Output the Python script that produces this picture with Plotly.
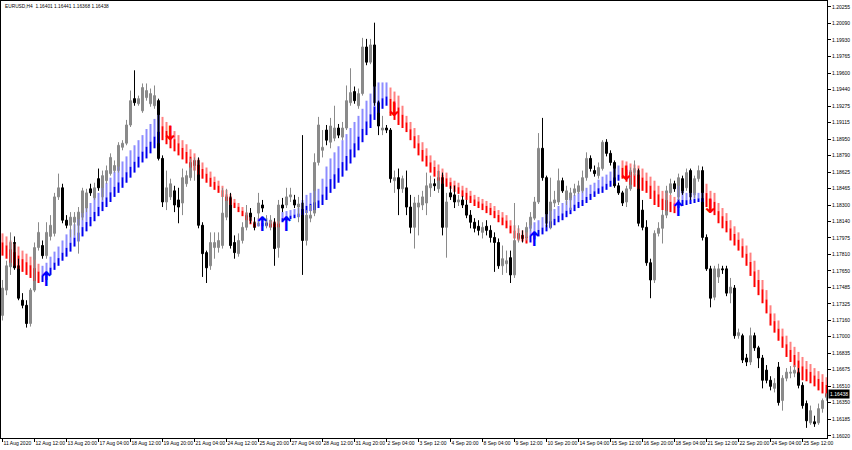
import plotly.graph_objects as go

# ---------------- data (EURUSD H4) ----------------
opens = [
1.1721, 1.1746, 1.1769, 1.1793, 1.1770, 1.1736, 1.1731, 1.1713, 1.1746, 1.1788,
1.1790, 1.1780, 1.1799, 1.1802, 1.1838, 1.1847, 1.1815, 1.1810, 1.1813, 1.1810,
1.1818, 1.1827, 1.1846, 1.1837, 1.1856, 1.1838, 1.1854, 1.1861, 1.1864, 1.1864,
1.1887, 1.1891, 1.1909, 1.1935, 1.1930, 1.1923, 1.1936, 1.1930, 1.1928, 1.1933,
1.1876, 1.1833, 1.1838, 1.1844, 1.1835, 1.1832, 1.1851, 1.1857, 1.1869, 1.1874,
1.1810, 1.1783, 1.1770, 1.1788, 1.1788, 1.1790, 1.1818, 1.1838, 1.1793, 1.1782,
1.1795, 1.1808, 1.1822, 1.1813, 1.1822, 1.1830, 1.1810, 1.1808, 1.1813, 1.1788,
1.1830, 1.1830, 1.1838, 1.1835, 1.1828, 1.1832, 1.1795, 1.1817, 1.1822, 1.1872,
1.1884, 1.1904, 1.1892, 1.1896, 1.1906, 1.1897, 1.1906, 1.1931, 1.1942, 1.1928,
1.1940, 1.1986, 1.1971, 1.1988, 1.1931, 1.1904, 1.1906, 1.1904, 1.1854, 1.1857,
1.1846, 1.1847, 1.1828, 1.1808, 1.1828, 1.1830, 1.1832, 1.1847, 1.1851, 1.1846,
1.1857, 1.1808, 1.1842, 1.1840, 1.1833, 1.1835, 1.1830, 1.1820, 1.1813, 1.1809,
1.1803, 1.1809, 1.1805, 1.1798, 1.1793, 1.1770, 1.1772, 1.1778, 1.1761, 1.1797,
1.1800, 1.1798, 1.1807, 1.1817, 1.1833, 1.1886, 1.1857, 1.1808, 1.1832, 1.1833,
1.1854, 1.1835, 1.1835, 1.1842, 1.1843, 1.1844, 1.1857, 1.1876, 1.1864, 1.1859,
1.1866, 1.1892, 1.1881, 1.1872, 1.1849, 1.1842, 1.1833, 1.1846, 1.1862, 1.1864,
1.1825, 1.1808, 1.1773, 1.1756, 1.1802, 1.1807, 1.1820, 1.1842, 1.1851, 1.1838,
1.1856, 1.1847, 1.1864, 1.1840, 1.1856, 1.1864, 1.1798, 1.1767, 1.1739, 1.1759,
1.1767, 1.1767, 1.1743, 1.1748, 1.1701, 1.1701, 1.1679, 1.1675, 1.1701, 1.1689,
1.1679, 1.1667, 1.1657, 1.1649, 1.1670, 1.1637, 1.1659, 1.1664, 1.1664, 1.1665,
1.1652, 1.1634, 1.1615, 1.1616, 1.1615, 1.1629, 1.16401]

highs = [
1.1756, 1.1775, 1.1803, 1.1799, 1.1777, 1.1743, 1.1736, 1.1748, 1.1793, 1.1813,
1.1795, 1.1813, 1.1820, 1.1842, 1.1861, 1.1851, 1.1820, 1.1823, 1.1823, 1.1828,
1.1847, 1.1846, 1.1851, 1.1852, 1.1866, 1.1864, 1.1869, 1.1881, 1.1874, 1.1892,
1.1894, 1.1914, 1.1943, 1.1963, 1.1938, 1.1950, 1.1950, 1.1945, 1.1948, 1.1935,
1.1879, 1.1864, 1.1856, 1.1849, 1.1847, 1.1866, 1.1864, 1.1876, 1.1877, 1.1877,
1.1813, 1.1785, 1.1803, 1.1803, 1.1803, 1.1847, 1.1846, 1.1842, 1.1800, 1.1802,
1.1813, 1.1830, 1.1827, 1.1818, 1.1842, 1.1835, 1.1820, 1.1820, 1.1817, 1.1835,
1.1837, 1.1847, 1.1847, 1.1840, 1.1838, 1.1899, 1.1825, 1.1830, 1.1881, 1.1917,
1.1904, 1.1909, 1.1916, 1.1928, 1.1910, 1.1912, 1.1948, 1.1965, 1.1947, 1.1945,
1.1995, 1.1994, 1.1994, 1.2010, 1.1933, 1.1918, 1.1909, 1.1906, 1.1864, 1.1866,
1.1859, 1.1864, 1.1840, 1.1838, 1.1840, 1.1844, 1.1862, 1.1859, 1.1856, 1.1864,
1.1862, 1.1842, 1.1849, 1.1849, 1.1840, 1.1839, 1.1835, 1.1825, 1.1817, 1.1815,
1.1813, 1.1815, 1.1810, 1.1803, 1.1797, 1.1790, 1.1785, 1.1785, 1.1832, 1.1810,
1.1805, 1.1813, 1.1823, 1.1838, 1.1901, 1.1916, 1.1859, 1.1857, 1.1844, 1.1866,
1.1857, 1.1849, 1.1847, 1.1851, 1.1854, 1.1864, 1.1882, 1.1879, 1.1869, 1.1872,
1.1894, 1.1895, 1.1884, 1.1874, 1.1852, 1.1844, 1.1849, 1.1867, 1.1874, 1.1866,
1.1835, 1.1815, 1.1777, 1.1805, 1.1813, 1.1825, 1.1849, 1.1856, 1.1854, 1.1861,
1.1859, 1.1866, 1.1866, 1.1859, 1.1869, 1.1868, 1.1801, 1.1770, 1.1770, 1.1772,
1.1770, 1.1770, 1.1758, 1.1751, 1.1708, 1.1703, 1.1683, 1.1709, 1.1704, 1.1691,
1.1682, 1.1672, 1.1661, 1.1659, 1.1675, 1.1662, 1.1669, 1.1671, 1.1672, 1.1669,
1.1655, 1.1637, 1.1632, 1.1622, 1.1634, 1.1639, 1.16441]

lows = [
1.1716, 1.1741, 1.1761, 1.1766, 1.1736, 1.1728, 1.1709, 1.1710, 1.1744, 1.1785,
1.1777, 1.1777, 1.1795, 1.1799, 1.1835, 1.1812, 1.1807, 1.1798, 1.1800, 1.1782,
1.1815, 1.1823, 1.1839, 1.1835, 1.1844, 1.1835, 1.1851, 1.1859, 1.1862, 1.1862,
1.1884, 1.1889, 1.1907, 1.1928, 1.1928, 1.1921, 1.1933, 1.1927, 1.1925, 1.1874,
1.1828, 1.1825, 1.1835, 1.1823, 1.1812, 1.1820, 1.1848, 1.1854, 1.1854, 1.1807,
1.1759, 1.1753, 1.1766, 1.1777, 1.1783, 1.1787, 1.1815, 1.1787, 1.1777, 1.1779,
1.1792, 1.1805, 1.1812, 1.1805, 1.1809, 1.1823, 1.1807, 1.1805, 1.1770, 1.1778,
1.1823, 1.1827, 1.1833, 1.1827, 1.1813, 1.1761, 1.1790, 1.1813, 1.1819, 1.1869,
1.1877, 1.1889, 1.1886, 1.1893, 1.1896, 1.1894, 1.1904, 1.1928, 1.1930, 1.1925,
1.1938, 1.1968, 1.1969, 1.1928, 1.1899, 1.1899, 1.1901, 1.1852, 1.1842, 1.1820,
1.1842, 1.1820, 1.1802, 1.1787, 1.1800, 1.1825, 1.1820, 1.1838, 1.1844, 1.1842,
1.1800, 1.1778, 1.1835, 1.1827, 1.1829, 1.1827, 1.1817, 1.1807, 1.1803, 1.1800,
1.1797, 1.1800, 1.1793, 1.1764, 1.1767, 1.1761, 1.1763, 1.1753, 1.1758, 1.1793,
1.1793, 1.1795, 1.1804, 1.1815, 1.1831, 1.1854, 1.1808, 1.1806, 1.1828, 1.1830,
1.1842, 1.1830, 1.1825, 1.1839, 1.1841, 1.1842, 1.1854, 1.1863, 1.1858, 1.1856,
1.1864, 1.1878, 1.1869, 1.1847, 1.1840, 1.1829, 1.1828, 1.1844, 1.1859, 1.1809,
1.1805, 1.1770, 1.1738, 1.1753, 1.1799, 1.1792, 1.1817, 1.1840, 1.1843, 1.1835,
1.1840, 1.1844, 1.1835, 1.1837, 1.1853, 1.1795, 1.1765, 1.1729, 1.1736, 1.1753,
1.1762, 1.1740, 1.1733, 1.1698, 1.1698, 1.1674, 1.1671, 1.1672, 1.1686, 1.1669,
1.1649, 1.1654, 1.1647, 1.1645, 1.1632, 1.1627, 1.1656, 1.1659, 1.1660, 1.1649,
1.1629, 1.1610, 1.1613, 1.1611, 1.1613, 1.1625, 1.16368]

closes = [
1.1748, 1.1770, 1.1793, 1.1768, 1.1738, 1.1731, 1.1713, 1.1746, 1.1788, 1.1803,
1.1780, 1.1803, 1.1810, 1.1838, 1.1847, 1.1815, 1.1810, 1.1818, 1.1818, 1.1823,
1.1844, 1.1842, 1.1842, 1.1847, 1.1847, 1.1859, 1.1864, 1.1877, 1.1869, 1.1889,
1.1891, 1.1909, 1.1933, 1.1931, 1.1935, 1.1946, 1.1943, 1.1940, 1.1938, 1.1876,
1.1833, 1.1847, 1.1851, 1.1830, 1.1828, 1.1857, 1.1859, 1.1872, 1.1874, 1.1810,
1.1782, 1.1768, 1.1793, 1.1793, 1.1795, 1.1822, 1.1838, 1.1790, 1.1783, 1.1795,
1.1808, 1.1822, 1.1815, 1.1808, 1.1832, 1.1827, 1.1813, 1.1815, 1.1787, 1.1830,
1.1827, 1.1838, 1.1840, 1.1830, 1.1831, 1.1795, 1.1820, 1.1820, 1.1872, 1.1909,
1.1887, 1.1894, 1.1908, 1.1906, 1.1899, 1.1906, 1.1933, 1.1941, 1.1933, 1.1940,
1.1986, 1.1971, 1.1988, 1.1931, 1.1908, 1.1906, 1.1904, 1.1856, 1.1857, 1.1846,
1.1856, 1.1828, 1.1808, 1.1832, 1.1832, 1.1838, 1.1849, 1.1851, 1.1849, 1.1857,
1.1808, 1.1833, 1.1838, 1.1833, 1.1835, 1.1830, 1.1820, 1.1813, 1.1807, 1.1805,
1.1808, 1.1805, 1.1798, 1.1793, 1.1770, 1.1777, 1.1775, 1.1761, 1.1795, 1.1802,
1.1797, 1.1808, 1.1818, 1.1833, 1.1886, 1.1857, 1.1812, 1.1833, 1.1835, 1.1854,
1.1844, 1.1844, 1.1842, 1.1846, 1.1849, 1.1857, 1.1876, 1.1866, 1.1861, 1.1867,
1.1892, 1.1881, 1.1872, 1.1849, 1.1842, 1.1832, 1.1846, 1.1864, 1.1866, 1.1812,
1.1808, 1.1773, 1.1756, 1.1802, 1.1807, 1.1820, 1.1844, 1.1851, 1.1846, 1.1857,
1.1842, 1.1862, 1.1838, 1.1856, 1.1864, 1.1798, 1.1767, 1.1738, 1.1767, 1.1767,
1.1766, 1.1743, 1.1749, 1.1701, 1.1704, 1.1677, 1.1675, 1.1701, 1.1689, 1.1679,
1.1657, 1.1657, 1.1651, 1.1654, 1.1635, 1.1659, 1.1665, 1.1665, 1.1667, 1.1652,
1.1632, 1.1617, 1.1627, 1.1614, 1.1629, 1.1637, 1.16438]

# trend indicator: upper and lower end of each column
ind_hi = [
1.1802, 1.1799, 1.1795, 1.1792, 1.1789, 1.1785, 1.1782, 1.1779, 1.1776, 1.1772,
1.1770, 1.1773, 1.1779, 1.1784, 1.1789, 1.1795, 1.1801, 1.1806, 1.1811, 1.1816,
1.1822, 1.1827, 1.1832, 1.1837, 1.1842, 1.1847, 1.1852, 1.1857, 1.1863, 1.1868,
1.1873, 1.1878, 1.1884, 1.1889, 1.1894, 1.1899, 1.1905, 1.1910, 1.1915, 1.1919,
1.1917, 1.1912, 1.1908, 1.1903, 1.1899, 1.1894, 1.1890, 1.1885, 1.1881, 1.1876,
1.1872, 1.1867, 1.1863, 1.1858, 1.1854, 1.1849, 1.1845, 1.1841, 1.1836, 1.1832,
1.1828, 1.1823, 1.1818, 1.1814, 1.1817, 1.1817, 1.1817, 1.1814, 1.1814, 1.1814,
1.1823, 1.1824, 1.1825, 1.1826, 1.1827, 1.1835, 1.1840, 1.1842, 1.1844, 1.1846,
1.1856, 1.1868, 1.1876, 1.1882, 1.1888, 1.1894, 1.1900, 1.1906, 1.1912, 1.1918,
1.1925, 1.1933, 1.1940, 1.1947, 1.1951, 1.1951, 1.1951, 1.1946, 1.1942, 1.1938,
1.1928, 1.1918, 1.1912, 1.1906, 1.1899, 1.1892, 1.1886, 1.1879, 1.1874, 1.1870,
1.1866, 1.1862, 1.1857, 1.1854, 1.1852, 1.1849, 1.1847, 1.1844, 1.1840, 1.1838,
1.1836, 1.1834, 1.1832, 1.1829, 1.1825, 1.1823, 1.1820, 1.1815, 1.1810, 1.1807,
1.1805, 1.1803, 1.1810, 1.1813, 1.1815, 1.1818, 1.1821, 1.1824, 1.1826, 1.1829,
1.1832, 1.1834, 1.1837, 1.1840, 1.1842, 1.1844, 1.1847, 1.1850, 1.1852, 1.1855,
1.1858, 1.1860, 1.1863, 1.1866, 1.1869, 1.1874, 1.1873, 1.1871, 1.1870, 1.1869,
1.1866, 1.1862, 1.1858, 1.1854, 1.1849, 1.1844, 1.1842, 1.1840, 1.1838, 1.1849,
1.1844, 1.1842, 1.1842, 1.1842, 1.1842, 1.1842, 1.1851, 1.1844, 1.1842, 1.1832,
1.1827, 1.1822, 1.1815, 1.1809, 1.1803, 1.1797, 1.1790, 1.1783, 1.1775, 1.1766,
1.1756, 1.1746, 1.1731, 1.1723, 1.1716, 1.1708, 1.1701, 1.1695, 1.1690, 1.1685,
1.1680, 1.1676, 1.1673, 1.1669, 1.1666, 1.1663, 1.1660]

ind_lo = [
1.1780, 1.1777, 1.1773, 1.1770, 1.1767, 1.1764, 1.1761, 1.1758, 1.1755, 1.1753,
1.1754, 1.1756, 1.1761, 1.1766, 1.1770, 1.1775, 1.1779, 1.1784, 1.1789, 1.1794,
1.1799, 1.1804, 1.1809, 1.1814, 1.1819, 1.1824, 1.1828, 1.1833, 1.1838, 1.1842,
1.1847, 1.1852, 1.1857, 1.1862, 1.1867, 1.1872, 1.1876, 1.1881, 1.1886, 1.1891,
1.1894, 1.1890, 1.1886, 1.1883, 1.1879, 1.1875, 1.1871, 1.1867, 1.1864, 1.1860,
1.1856, 1.1852, 1.1848, 1.1845, 1.1842, 1.1838, 1.1834, 1.1830, 1.1827, 1.1823,
1.1819, 1.1815, 1.1811, 1.1808, 1.1809, 1.1809, 1.1809, 1.1808, 1.1808, 1.1808,
1.1813, 1.1815, 1.1816, 1.1817, 1.1818, 1.1820, 1.1822, 1.1824, 1.1825, 1.1827,
1.1830, 1.1835, 1.1842, 1.1846, 1.1852, 1.1858, 1.1864, 1.1871, 1.1877, 1.1884,
1.1892, 1.1899, 1.1906, 1.1914, 1.1921, 1.1925, 1.1928, 1.1918, 1.1914, 1.1909,
1.1906, 1.1902, 1.1894, 1.1886, 1.1879, 1.1873, 1.1868, 1.1862, 1.1858, 1.1854,
1.1851, 1.1848, 1.1846, 1.1843, 1.1841, 1.1838, 1.1835, 1.1832, 1.1829, 1.1827,
1.1825, 1.1822, 1.1820, 1.1817, 1.1813, 1.1810, 1.1807, 1.1802, 1.1797, 1.1795,
1.1794, 1.1792, 1.1793, 1.1796, 1.1799, 1.1801, 1.1804, 1.1807, 1.1810, 1.1813,
1.1815, 1.1818, 1.1821, 1.1824, 1.1827, 1.1829, 1.1832, 1.1835, 1.1838, 1.1841,
1.1842, 1.1845, 1.1848, 1.1851, 1.1854, 1.1856, 1.1853, 1.1850, 1.1848, 1.1846,
1.1844, 1.1842, 1.1836, 1.1830, 1.1828, 1.1825, 1.1824, 1.1823, 1.1822, 1.1827,
1.1829, 1.1830, 1.1831, 1.1832, 1.1833, 1.1833, 1.1828, 1.1823, 1.1820, 1.1812,
1.1807, 1.1803, 1.1795, 1.1790, 1.1785, 1.1778, 1.1770, 1.1760, 1.1749, 1.1741,
1.1733, 1.1723, 1.1711, 1.1704, 1.1696, 1.1689, 1.1680, 1.1675, 1.1670, 1.1664,
1.1657, 1.1656, 1.1654, 1.1651, 1.1647, 1.1644, 1.1641]

# (first bar, last bar, direction): 1 = up (blue), -1 = down (red)
trend_segments = [(0, 9, -1), (10, 39, 1), (40, 63, -1), (64, 66, 1), (67, 69, -1),
                  (70, 96, 1), (97, 131, -1), (132, 154, 1), (155, 168, -1),
                  (169, 175, 1), (176, 206, -1)]

arrow_up_bars = [11, 65, 71, 133, 169]
arrow_up_prices = [1.1755, 1.1809, 1.1809, 1.1794, 1.1824]
arrow_dn_bars = [42, 98, 156, 177]
arrow_dn_prices = [1.1899, 1.1923, 1.1860, 1.1827]

xtick_bars = [0, 8, 16, 24, 32, 40, 48, 56, 64, 72, 80, 88, 96, 104, 112, 120,
              128, 136, 144, 152, 160, 168, 176, 184, 192, 200]
xtick_labels = ["11 Aug 2020", "12 Aug 12:00", "13 Aug 20:00", "17 Aug 04:00",
                "18 Aug 12:00", "19 Aug 20:00", "21 Aug 04:00", "24 Aug 12:00",
                "25 Aug 20:00", "27 Aug 04:00", "28 Aug 12:00", "31 Aug 20:00",
                "2 Sep 04:00", "3 Sep 12:00", "4 Sep 20:00", "8 Sep 04:00",
                "9 Sep 12:00", "10 Sep 20:00", "14 Sep 04:00", "15 Sep 12:00",
                "16 Sep 20:00", "18 Sep 04:00", "21 Sep 12:00", "22 Sep 20:00",
                "24 Sep 04:00", "25 Sep 12:00"]
ytick_values = [1.20255, 1.20090, 1.19930, 1.19765, 1.19600, 1.19440, 1.19275,
                1.19115, 1.18950, 1.18790, 1.18625, 1.18465, 1.18300, 1.18140,
                1.17975, 1.17810, 1.17650, 1.17485, 1.17325, 1.17160, 1.17000,
                1.16835, 1.16675, 1.16510, 1.16350, 1.16185, 1.16020]
header_text = "EURUSD,H4  1.16401 1.16441 1.16368 1.16438"
last_price = 1.16438

# ---------------- build ----------------
n = len(opens)
assert len(highs) == n and len(lows) == n and len(closes) == n
assert len(ind_hi) == n and len(ind_lo) == n, (len(ind_hi), len(ind_lo), n)
idx = list(range(n))
trend = [0] * n
for s, e, d in trend_segments:
    for i in range(s, e + 1):
        trend[i] = d

FONT = "Liberation Sans, Arial, sans-serif"
bull = [i for i in idx if closes[i] >= opens[i]]
bear = [i for i in idx if closes[i] < opens[i]]
BULL_EDGE = "#8a8a8a"
BULL_FILL = "#f2f2f2"

fig = go.Figure()

def wicks(ids, color):
    xs, ys = [], []
    for i in ids:
        xs += [i, i, None]
        ys += [lows[i], highs[i], None]
    fig.add_trace(go.Scatter(x=xs, y=ys, mode="lines", line=dict(color=color, width=1),
                             hoverinfo="skip", showlegend=False))

def bodies(ids, fill, edge):
    base = [min(opens[i], closes[i]) for i in ids]
    hgt = [max(abs(closes[i] - opens[i]), 0.00003) for i in ids]
    fig.add_trace(go.Bar(x=ids, y=hgt, base=base, width=0.5,
                         marker=dict(color=fill, line=dict(color=edge, width=1)),
                         hoverinfo="skip", showlegend=False))

wicks(bull, BULL_EDGE)
wicks(bear, "#000000")
bodies(bull, BULL_FILL, BULL_EDGE)
bodies(bear, "#000000", "#000000")

def columns(direction, light, dark, light_frac):
    ids = [i for i in idx if trend[i] == direction]
    mids = [ind_lo[i] + (1 - light_frac) * (ind_hi[i] - ind_lo[i]) for i in ids]
    fig.add_trace(go.Bar(x=ids, y=[ind_hi[i] - m for i, m in zip(ids, mids)], base=mids,
                         width=0.5, marker=dict(color=light, line=dict(width=0)),
                         hoverinfo="skip", showlegend=False))
    fig.add_trace(go.Bar(x=ids, y=[m - ind_lo[i] for i, m in zip(ids, mids)],
                         base=[ind_lo[i] for i in ids],
                         width=0.5, marker=dict(color=dark, line=dict(width=0)),
                         hoverinfo="skip", showlegend=False))

columns(1, "#8c8cff", "#0000f0", 0.6)
columns(-1, "#ff8080", "#ff0000", 0.4)

fig.add_trace(go.Scatter(x=arrow_up_bars, y=arrow_up_prices, mode="text",
                         text=["<b>\u2191</b>"] * len(arrow_up_bars),
                         textfont=dict(color="#0000ff", size=20, family="DejaVu Sans"),
                         textposition="middle center", hoverinfo="skip", showlegend=False))
fig.add_trace(go.Scatter(x=arrow_dn_bars, y=arrow_dn_prices, mode="text",
                         text=["<b>\u2193</b>"] * len(arrow_dn_bars),
                         textfont=dict(color="#ff0000", size=20, family="DejaVu Sans"),
                         textposition="middle center", hoverinfo="skip", showlegend=False))

fig.update_layout(
    width=852, height=450,
    margin=dict(l=1, r=25, t=1, b=12),
    paper_bgcolor="white", plot_bgcolor="white",
    barmode="overlay", showlegend=False,
    font=dict(family=FONT, size=5, color="black"),
    annotations=[
        dict(xref="paper", yref="paper", x=0, y=1, xanchor="left", yanchor="top",
             xshift=2, yshift=-1, text=header_text, showarrow=False,
             font=dict(family=FONT, size=4.8, color="black")),
        dict(xref="paper", yref="y", x=1, y=last_price, xanchor="left", yanchor="middle",
             xshift=1, text=f"{last_price:.5f}", showarrow=False, bgcolor="black",
             borderpad=1, font=dict(family=FONT, size=5, color="white")),
    ],
)
fig.update_xaxes(range=[-0.375, 206.125], showgrid=False, zeroline=False,
                 tickvals=xtick_bars, ticktext=xtick_labels, tickangle=0,
                 ticks="outside", ticklen=3, tickcolor="black", tickwidth=1,
                 ticklabelposition="outside right",
                 tickfont=dict(family=FONT, size=5, color="black"),
                 showline=True, linecolor="black", linewidth=1, mirror=True,
                 fixedrange=True)
fig.update_yaxes(range=[1.16000, 1.20314], side="right", showgrid=False, zeroline=False,
                 tickvals=ytick_values, ticktext=[f"{v:.5f}" for v in ytick_values],
                 ticks="outside", ticklen=3, tickcolor="black", tickwidth=1,
                 tickfont=dict(family=FONT, size=5, color="black"),
                 showline=True, linecolor="black", linewidth=1, mirror=True,
                 fixedrange=True)

fig.write_html("out.html", config={"displayModeBar": False},
               post_script="document.body.style.margin='0px';document.body.style.padding='0px';")
